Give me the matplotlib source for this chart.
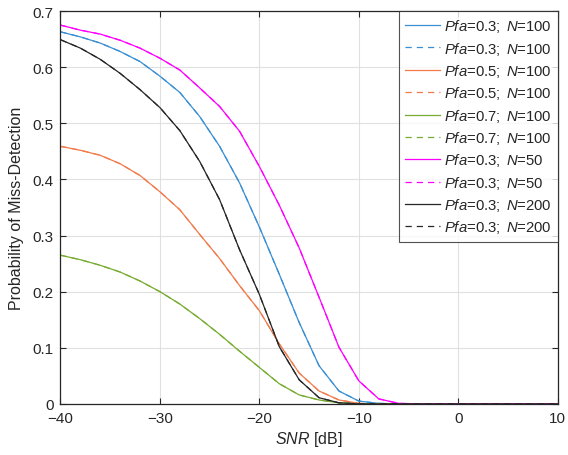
import matplotlib
matplotlib.use("Agg")
import matplotlib.pyplot as plt
import numpy as np

plt.rcParams['font.family'] = ['Liberation Sans', 'DejaVu Sans']
plt.rcParams['mathtext.fontset'] = 'custom'
plt.rcParams['mathtext.it'] = 'Liberation Sans:italic'
plt.rcParams['mathtext.rm'] = 'Liberation Sans'

snr = [-40, -38, -36, -34, -32, -30, -28, -26, -24, -22, -20, -18, -16, -14,
       -12, -10, -8, -6, -4, -2, 0, 2, 4, 6, 8, 10]

pfa03_n100 = [0.663, 0.654, 0.643, 0.628, 0.610, 0.584, 0.555, 0.512, 0.459, 0.394,
              0.315, 0.231, 0.145, 0.068, 0.023, 0.005, 0.001, 0, 0, 0, 0, 0, 0, 0, 0, 0]
pfa05_n100 = [0.459, 0.452, 0.443, 0.428, 0.407, 0.378, 0.346, 0.302, 0.259, 0.211,
              0.166, 0.107, 0.055, 0.023, 0.007, 0.001, 0, 0, 0, 0, 0, 0, 0, 0, 0, 0]
pfa07_n100 = [0.265, 0.257, 0.247, 0.235, 0.219, 0.200, 0.178, 0.152, 0.124, 0.094,
              0.065, 0.036, 0.016, 0.007, 0.002, 0, 0, 0, 0, 0, 0, 0, 0, 0, 0, 0]
pfa03_n50 = [0.675, 0.666, 0.659, 0.648, 0.634, 0.616, 0.595, 0.563, 0.530, 0.486,
             0.423, 0.354, 0.278, 0.190, 0.101, 0.041, 0.009, 0.001, 0, 0, 0, 0, 0, 0, 0, 0]
pfa03_n200 = [0.649, 0.634, 0.614, 0.589, 0.560, 0.528, 0.487, 0.432, 0.364, 0.275,
              0.195, 0.102, 0.043, 0.011, 0.002, 0, 0, 0, 0, 0, 0, 0, 0, 0, 0, 0]

series = [
    (pfa03_n100, '#3a8fd3', '0.3', '100'),
    (pfa05_n100, '#f27a4a', '0.5', '100'),
    (pfa07_n100, '#77ac30', '0.7', '100'),
    (pfa03_n50, '#ff00ff', '0.3', '50'),
    (pfa03_n200, '#262626', '0.3', '200'),
]

fig = plt.figure(figsize=(5.68, 4.56), dpi=100)
ax = fig.add_axes([0.1065, 0.112, 0.8755, 0.8615])

for vals, col, pfa, n in series:
    lab = r'$\it{Pfa}$=' + pfa + r'; $\,\it{N}$=' + n
    ax.plot(snr, vals, '-', color=col, lw=0.9, label=lab)
    ax.plot(snr, vals, '--', color=col, lw=0.9, label=lab, dashes=(5, 4))

ax.set_xlim(-40, 10)
ax.set_ylim(0, 0.7)
ax.set_xticks([-40, -30, -20, -10, 0, 10])
ax.set_yticks([0, 0.1, 0.2, 0.3, 0.4, 0.5, 0.6, 0.7])
ax.set_yticklabels(['0', '0.1', '0.2', '0.3', '0.4', '0.5', '0.6', '0.7'])
ax.grid(True, color='#e0e0e0', lw=0.8)
ax.set_axisbelow(True)
ax.tick_params(direction='in', top=True, right=True, labelsize=11, length=4,
               colors='#262626', labelcolor='#262626', pad=5)
for sp in ax.spines.values():
    sp.set_color('#262626')
    sp.set_linewidth(0.9)
ax.set_xlabel(r'$\it{SNR}$ [dB]', fontsize=11.5, color='#262626', labelpad=3)
ax.set_ylabel('Probability of Miss-Detection', fontsize=11.5, color='#262626', labelpad=6)

leg = ax.legend(loc='upper right', fontsize=10.7, frameon=True, fancybox=False,
                borderaxespad=0, handlelength=2.35, labelspacing=0.36,
                borderpad=0.42, handletextpad=0.25)
leg.get_frame().set_edgecolor('#262626')
leg.get_frame().set_linewidth(0.8)
for t in leg.get_texts():
    t.set_color('#262626')

fig.savefig('out.png', dpi=100)
